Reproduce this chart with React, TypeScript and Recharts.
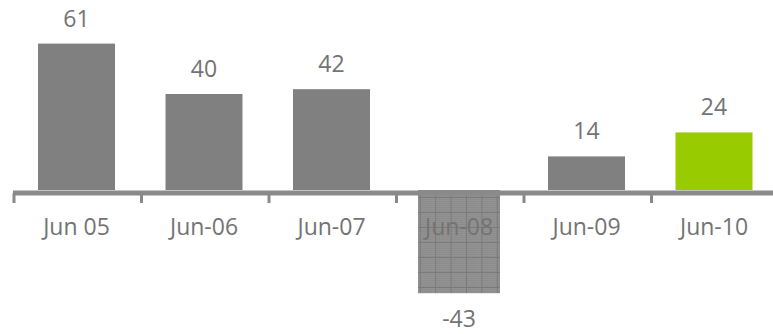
import { BarChart, Bar, XAxis, YAxis, Cell, LabelList, ReferenceLine } from "recharts";

const categories = ["Jun 05", "Jun-06", "Jun-07", "Jun-08", "Jun-09", "Jun-10"];
const changes = [61, 40, 42, -43, 14, 24];
const valueDomain = [-50, 70];
const hatchedCategory = "Jun-08";
const highlightCategory = "Jun-10";

const data = categories.map((name, i) => ({ name, value: changes[i] }));

const TEXT = "#737373";
const FONT = "'Open Sans', sans-serif";

function BarShape(props: any) {
  const { x, y, width, height, fill, payload } = props;
  const top = Math.min(y, y + height);
  const h = Math.abs(height);
  if (payload && payload.name === hatchedCategory) {
    // the hatched bar is drawn a little wider, like the original spreadsheet fill
    return <rect x={x - 2.5} y={top} width={width + 5} height={h} fill="url(#gridHatch)" />;
  }
  return <rect x={x} y={top} width={width} height={h} fill={fill} />;
}

function CategoryLabel(props: any) {
  const vb = props.viewBox || props;
  const { x, y, width, height } = vb;
  const zeroY = y + height;
  return (
    <text x={x + width / 2} y={zeroY + 45} textAnchor="middle" fill={TEXT} fontSize={23} fontFamily={FONT}>
      {props.value}
    </text>
  );
}

function AxisWithTicks(props: any) {
  const { x1, x2, y1 } = props;
  const y = y1 + 3;
  const step = (x2 - x1) / categories.length;
  return (
    <g>
      <line x1={x1} x2={x2} y1={y} y2={y} stroke="#8a8a8a" strokeWidth={5} />
      {Array.from({ length: categories.length + 1 }, (_, i) => (
        <line key={i} x1={x1 + i * step + 1} x2={x1 + i * step + 1} y1={y} y2={y + 10} stroke="#8a8a8a" strokeWidth={3} />
      ))}
    </g>
  );
}

export default function App() {
  return (
    <div style={{ position: "absolute", left: 0, top: 0, width: 773, height: 334, overflow: "hidden" }}>
      <BarChart width={781} height={334} data={data} margin={{ top: 22, right: 3, left: 13, bottom: 24 }}>
        <defs>
          <pattern id="dots" width={2} height={2} patternUnits="userSpaceOnUse">
            <rect width={2} height={2} fill="#929292" />
            <rect width={1} height={1} fill="#888888" />
          </pattern>
          <pattern id="gridHatch" width={15.4} height={15} x={4} y={2} patternUnits="userSpaceOnUse">
            <rect width={15.4} height={15} fill="url(#dots)" />
            <line x1={0} x2={15.4} y1={0.5} y2={0.5} stroke="#7a7a7a" strokeWidth={1} />
            <line x1={0.5} x2={0.5} y1={0} y2={15} stroke="#7a7a7a" strokeWidth={1} />
          </pattern>
        </defs>
        <XAxis dataKey="name" hide />
        <YAxis hide domain={valueDomain} />
        <Bar dataKey="value" barSize={77} isAnimationActive={false} shape={<BarShape />}>
          {data.map((d) => (
            <Cell key={d.name} fill={d.name === highlightCategory ? "#99cc00" : "#808080"} />
          ))}
          <LabelList dataKey="value" position="top" offset={17} fill={TEXT} fontSize={23} fontFamily={FONT} />
          <LabelList dataKey="name" content={<CategoryLabel />} />
        </Bar>
        <ReferenceLine y={0} shape={<AxisWithTicks />} ifOverflow="visible" />
      </BarChart>
    </div>
  );
}
